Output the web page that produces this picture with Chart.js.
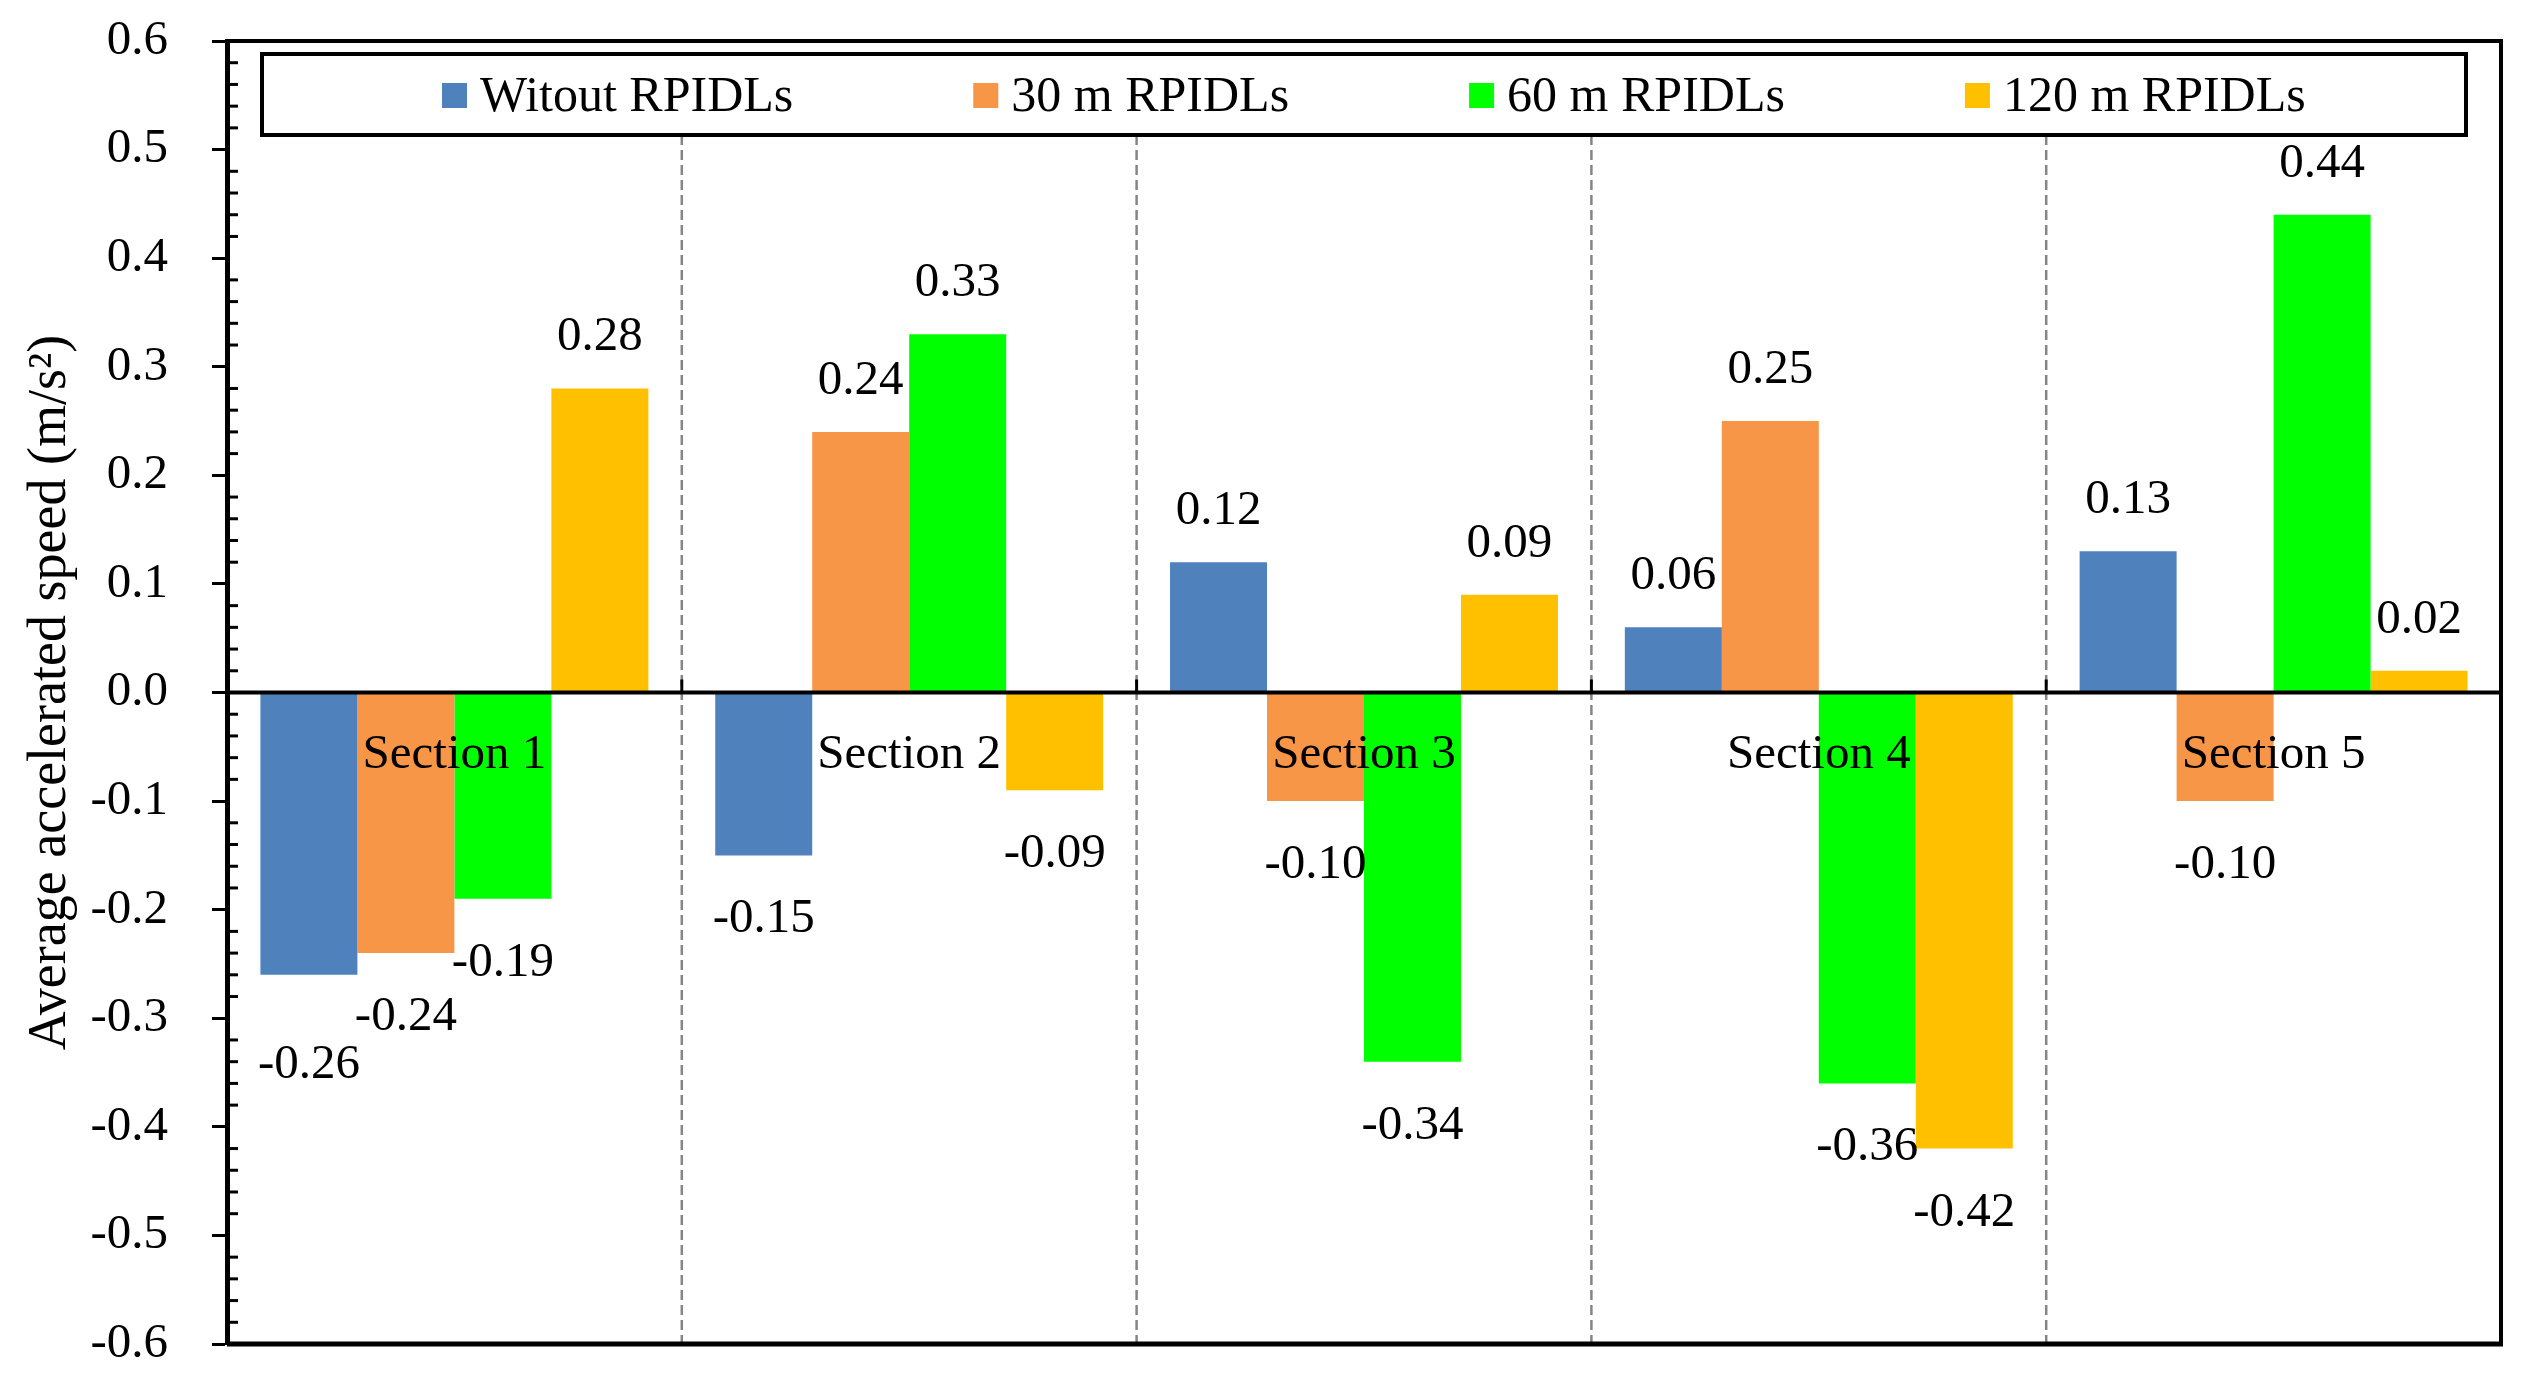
<!DOCTYPE html>
<html><head><meta charset="utf-8">
<script src="https://cdn.jsdelivr.net/npm/chart.js@4.4.0/dist/chart.umd.min.js"></script>
<style>html,body{margin:0;padding:0;background:#fff;} canvas{display:block;}</style>
</head><body>
<canvas id="c" width="2522" height="1386" style="width:2522px;height:1386px"></canvas>
<script>
// ---- data ----
const categories = ['Section 1', 'Section 2', 'Section 3', 'Section 4', 'Section 5'];
const seriesNames = ['Witout RPIDLs', '30 m RPIDLs', '60 m RPIDLs', '120 m RPIDLs'];
const withoutRPIDLs = [-0.26, -0.15, 0.12, 0.06, 0.13];
const rpidl30 = [-0.24, 0.24, -0.10, 0.25, -0.10];
const rpidl60 = [-0.19, 0.33, -0.34, -0.36, 0.44];
const rpidl120 = [0.28, -0.09, 0.09, -0.42, 0.02];
const yMin = -0.6, yMax = 0.6, yStep = 0.1, yMinorStep = 0.02;
const yTitle = 'Average accelerated speed (m/s\u00B2)';

// ---- style ----
const colors = ['#4F81BD', '#F79646', '#00FF00', '#FFC000'];
const FONT = '"Liberation Serif", "Times New Roman", serif';
const FS = 49;
const legendBox = { left: 262, top: 54, right: 2466, bottom: 135 };

function boundaries(x) {
  const b = [];
  for (let i = 1; i < categories.length; i++) b.push((x.getPixelForValue(i - 1) + x.getPixelForValue(i)) / 2);
  return b;
}

const deco = {
  id: 'deco',
  beforeDatasetsDraw(chart) {
    const { ctx, chartArea: a, scales: { x } } = chart;
    ctx.save();
    ctx.strokeStyle = '#858585';
    ctx.lineWidth = 2.5;
    ctx.setLineDash([10, 5]);
    boundaries(x).forEach(bx => {
      ctx.beginPath(); ctx.moveTo(bx, legendBox.bottom); ctx.lineTo(bx, a.bottom); ctx.stroke();
    });
    ctx.restore();
  },
  afterDatasetsDraw(chart) {
    const { ctx, chartArea: a, scales: { x, y } } = chart;
    ctx.save();
    ctx.strokeStyle = '#000';
    ctx.lineCap = 'butt';
    // frame top / right / bottom
    ctx.lineWidth = 4;
    ctx.beginPath();
    ctx.moveTo(a.left, a.top); ctx.lineTo(a.right, a.top); ctx.lineTo(a.right, a.bottom);
    ctx.stroke();
    ctx.lineWidth = 5;
    ctx.beginPath(); ctx.moveTo(a.left, a.bottom); ctx.lineTo(a.right + 2, a.bottom); ctx.stroke();
    // zero line
    const y0 = y.getPixelForValue(0);
    ctx.lineWidth = 4;
    ctx.beginPath(); ctx.moveTo(a.left, y0); ctx.lineTo(a.right, y0); ctx.stroke();
    // small category-boundary ticks on the zero line
    ctx.lineWidth = 3;
    boundaries(x).forEach(bx => {
      ctx.beginPath(); ctx.moveTo(bx, y0 - 13); ctx.lineTo(bx, y0); ctx.stroke();
    });
    // minor ticks (inside)
    const nMinor = Math.round((yMax - yMin) / yMinorStep);
    const per = Math.round(yStep / yMinorStep);
    for (let k = 0; k <= nMinor; k++) {
      if (k % per === 0) continue;
      const py = y.getPixelForValue(yMin + k * yMinorStep);
      ctx.beginPath(); ctx.moveTo(a.left, py); ctx.lineTo(a.left + 11, py); ctx.stroke();
    }
    // data labels with simple collision avoidance
    ctx.fillStyle = '#000';
    ctx.font = FS + 'px ' + FONT;
    ctx.textAlign = 'center';
    ctx.textBaseline = 'alphabetic';
    const labels = [];
    chart.data.datasets.forEach((ds, d) => {
      const meta = chart.getDatasetMeta(d);
      meta.data.forEach((el, i) => {
        const v = ds.data[i];
        const txt = v.toFixed(2);
        labels.push({ v, txt, x: el.x, cy: v >= 0 ? el.y - 55 : el.y + 60, w: ctx.measureText(txt).width });
      });
    });
    labels.sort((p, q) => Math.abs(p.v) - Math.abs(q.v));
    const placed = [];
    const minSep = 48;
    labels.forEach(L => {
      let moved = true;
      while (moved) {
        moved = false;
        for (const P of placed) {
          const hOverlap = Math.abs(P.x - L.x) < (P.w + L.w) / 2;
          if (hOverlap && Math.abs(P.cy - L.cy) < minSep && Math.sign(P.v) === Math.sign(L.v)) {
            L.cy = L.v < 0 ? P.cy + minSep : P.cy - minSep;
            moved = true;
          }
        }
      }
      placed.push(L);
      ctx.fillText(L.txt, L.x, L.cy + 17);
    });
    // category labels
    chart.data.labels.forEach((lab, i) => {
      ctx.fillText(lab, x.getPixelForValue(i), y0 + 75);
    });
    // legend
    ctx.fillStyle = '#fff';
    ctx.fillRect(legendBox.left, legendBox.top, legendBox.right - legendBox.left, legendBox.bottom - legendBox.top);
    ctx.lineWidth = 4;
    ctx.strokeRect(legendBox.left, legendBox.top, legendBox.right - legendBox.left, legendBox.bottom - legendBox.top);
    const sq = 25, sqGap = 13, itemGap = 180;
    ctx.font = '50px ' + FONT;
    ctx.textAlign = 'left';
    let lx = legendBox.left + 180;
    chart.data.datasets.forEach(ds => {
      ctx.fillStyle = ds.backgroundColor;
      ctx.fillRect(lx, 83, sq, sq);
      ctx.fillStyle = '#000';
      ctx.fillText(ds.label, lx + sq + sqGap, 111);
      lx += sq + sqGap + ctx.measureText(ds.label).width + itemGap;
    });
    ctx.restore();
  }
};

const seriesValues = [withoutRPIDLs, rpidl30, rpidl60, rpidl120];

new Chart(document.getElementById('c'), {
  type: 'bar',
  data: {
    labels: categories,
    datasets: seriesNames.map((name, i) => ({
      label: name,
      data: seriesValues[i],
      backgroundColor: colors[i],
      borderWidth: 0,
      categoryPercentage: 0.853,
      barPercentage: 1.0
    }))
  },
  options: {
    responsive: false,
    devicePixelRatio: 1,
    animation: false,
    layout: { padding: { left: 0, top: 41, right: 21, bottom: 42 } },
    plugins: { legend: { display: false }, tooltip: { enabled: false }, title: { display: false } },
    scales: {
      x: { display: false },
      y: {
        min: yMin, max: yMax,
        afterFit(s) { s.width = 227; s.paddingTop = 0; s.paddingBottom = 0; },
        ticks: {
          stepSize: yStep,
          color: '#000',
          font: { family: FONT, size: FS },
          padding: 44,
          callback: v => (Math.abs(v) < 1e-9 ? 0 : v).toFixed(1)
        },
        grid: { drawOnChartArea: false, drawTicks: true, tickLength: 15, tickWidth: 3, tickColor: '#000' },
        border: { display: true, color: '#000', width: 5 },
        title: {
          display: true,
          text: yTitle,
          color: '#000',
          font: { family: FONT, size: 54 },
          padding: { top: 18, bottom: 0 }
        }
      }
    }
  },
  plugins: [deco]
});
</script>
</body></html>
